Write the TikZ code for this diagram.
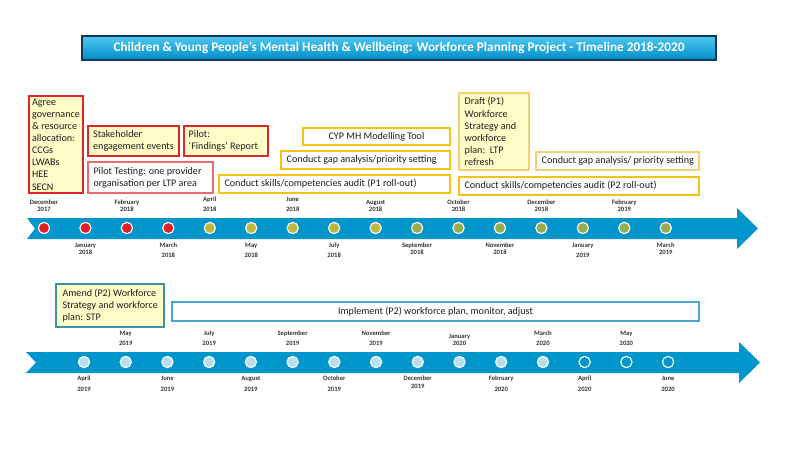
\documentclass[tikz,border=0pt]{standalone}
\usepackage{fontspec}
\setmainfont{Carlito}
\usetikzlibrary{fit}
\definecolor{band}{RGB}{0,150,204}
\definecolor{cred}{RGB}{226,30,38}
\definecolor{colive}{RGB}{190,184,60}
\definecolor{cgreen}{RGB}{150,172,78}
\definecolor{cblue}{RGB}{183,223,242}
\definecolor{lyellow}{RGB}{255,252,200}
\definecolor{bred}{RGB}{222,40,40}
\definecolor{bpink}{RGB}{232,110,110}
\definecolor{bgold}{RGB}{245,196,20}
\definecolor{blgold}{RGB}{242,210,110}
\definecolor{bteal}{RGB}{60,145,170}
\definecolor{bblue}{RGB}{75,165,205}
\definecolor{tdark}{RGB}{30,30,30}
\definecolor{titletop}{RGB}{80,200,240}
\definecolor{titlebot}{RGB}{0,140,200}
\definecolor{titleedge}{RGB}{25,55,85}
\begin{document}
\begin{tikzpicture}[x=0.025cm,y=-0.025cm,
  frame/.style={inner sep=0pt, line width=0.8pt},
  txt/.style={font=\fontsize{7.2}{8.6}\selectfont, text=tdark, inner sep=0pt, align=left},
  lbl/.style={font=\fontsize{4.7}{5}\selectfont\bfseries, text=black!80, inner sep=0pt, text height=3.3pt, text depth=0.9pt},
  dot/.style={circle, draw=white, line width=0.8pt, minimum size=8pt, inner sep=0pt},
]
\useasboundingbox (0,0) rectangle (800,450);

% title
\node[frame, fit={(82,36)(716,60)}, draw=titleedge, top color=titletop, bottom color=titlebot] (title) {};
\node[font=\fontsize{9.4}{10}\selectfont\bfseries, text=white, inner sep=0pt] (titletext) at (title.center) {Children \& Young People’s Mental Health \& Wellbeing: Workforce Planning Project - Timeline 2018-2020};

% timeline bands
\fill[band] (27,218) -- (737,218) -- (737,208) -- (758,228.5) -- (737,249) -- (737,239) -- (27,239) -- (35,228.5) -- cycle;
\fill[band] (26,352) -- (739,352) -- (739,342) -- (760,362.5) -- (739,383) -- (739,373) -- (26,373) -- (36,362.5) -- cycle;

% top row boxes
\node[frame, fit={(29,96)(83,193)}, draw=bred, fill=lyellow] (agree) {};
\node[txt] (agreet) at (agree.center) {Agree\\governance\\\& resource\\allocation:\\CCGs\\LWABs\\HEE\\SECN};

\node[frame, fit={(88,126)(179,156)}, draw=bred, fill=lyellow] (stake) {};
\node[txt] (staket) at (stake.center) {Stakeholder\\engagement events};

\node[frame, fit={(184,126)(268,156)}, draw=bred, fill=lyellow] (pilot) {};
\node[txt, anchor=west] (pilott) at ([xshift=0.125cm]pilot.west) {Pilot:\\‘Findings’ Report};

\node[frame, fit={(88,162)(213,193)}, draw=bpink, fill=white, line width=1.1pt] (ptest) {};
\node[txt, anchor=west] (ptestt) at ([xshift=0.15cm]ptest.west) {Pilot Testing: one provider\\organisation per LTP area};

\node[frame, fit={(303,128)(450,145)}, draw=bgold, fill=white] (cyp) {};
\node[txt] (cypt) at (cyp.center) {CYP MH Modelling Tool};

\node[frame, fit={(281,151)(450,169)}, draw=bgold, fill=white] (gap1) {};
\node[txt, anchor=west] (gap1t) at ([xshift=0.15cm]gap1.west) {Conduct gap analysis/priority setting};

\node[frame, fit={(219,175)(450,193)}, draw=bgold, fill=white, line width=1.1pt] (aud1) {};
\node[txt, anchor=west] (aud1t) at ([xshift=0.15cm]aud1.west) {Conduct skills/competencies audit (P1 roll-out)};

\node[frame, fit={(459,93)(529,170)}, draw=blgold, fill=lyellow] (draft) {};
\node[txt, anchor=west] (draftt) at ([xshift=0.15cm]draft.west) {Draft (P1)\\Workforce\\Strategy and\\workforce\\plan:\ \ LTP\\refresh};

\node[frame, fit={(536,152)(699,170)}, draw=blgold, fill=white] (gap2) {};
\node[txt, anchor=west] (gap2t) at ([xshift=0.15cm]gap2.west) {Conduct gap analysis/ priority setting};

\node[frame, fit={(459,177)(699,195)}, draw=bgold, fill=white, line width=1.1pt] (aud2) {};
\node[txt, anchor=west] (aud2t) at ([xshift=0.15cm]aud2.west) {Conduct skills/competencies audit (P2 roll-out)};

% second row boxes
\node[frame, fit={(56,284)(164,327)}, draw=bteal, fill=lyellow] (amend) {};
\node[txt, anchor=west] (amendt) at ([xshift=0.17cm]amend.west) {Amend (P2) Workforce\\Strategy and workforce\\plan: STP};

\node[frame, fit={(172,302)(699,321)}, draw=bblue, fill=white, line width=1pt] (impl) {};
\node[txt] (implt) at (impl.center) {Implement (P2) workforce plan, monitor, adjust};

% timeline 1 dots
\foreach \i/\c in {0/cred,1/cred,2/cred,3/cred,4/colive,5/colive,6/colive,7/colive,8/colive,9/cgreen,10/cgreen,11/cgreen,12/cgreen,13/cgreen,14/cgreen,15/cgreen}
  \node[dot, fill=\c] (a\i) at ({44+41.45*\i},228) {};

% timeline 1 labels
\foreach \i/\m/\yr/\ym/\yy in {0/December/2017/203/210, 2/February/2018/203/210, 4/April/2018/200/210, 6/June/2018/200/210, 8/August/2018/203/210, 10/October/2018/203/210, 12/December/2018/203/210, 14/February/2019/203/210,
  1/January/2018/246/253, 3/March/2018/246/256, 5/May/2018/246/256, 7/July/2018/246/256, 9/September/2018/246/253, 11/November/2018/246/253, 13/January/2019/246/256, 15/March/2019/246/253}
{
  \node[lbl] (am\i) at ({44+41.45*\i},\ym) {\m};
  \node[lbl] (ay\i) at ({44+41.45*\i},\yy) {\yr};
}

% timeline 2 dots
\foreach \i in {0,...,11}
  \node[dot, fill=cblue] (b\i) at ({84+41.72*\i},362) {};
\foreach \i in {12,13,14}
  \node[dot, fill=band] (b\i) at ({84+41.72*\i},362) {};

% timeline 2 labels
\foreach \i/\m/\yr/\ym/\yy in {1/May/2019/334/344, 3/July/2019/334/344, 5/September/2019/334/344, 7/November/2019/334/344, 9/January/2020/337/344, 11/March/2020/334/344, 13/May/2020/334/344,
  0/April/2019/379/390, 2/June/2019/379/390, 4/August/2019/379/390, 6/October/2019/379/390, 8/December/2019/379/387, 10/February/2020/379/390, 12/April/2020/379/390, 14/June/2020/379/390}
{
  \node[lbl] (bm\i) at ({84+41.72*\i},\ym) {\m};
  \node[lbl] (by\i) at ({84+41.72*\i},\yy) {\yr};
}
\end{tikzpicture}
\end{document}
